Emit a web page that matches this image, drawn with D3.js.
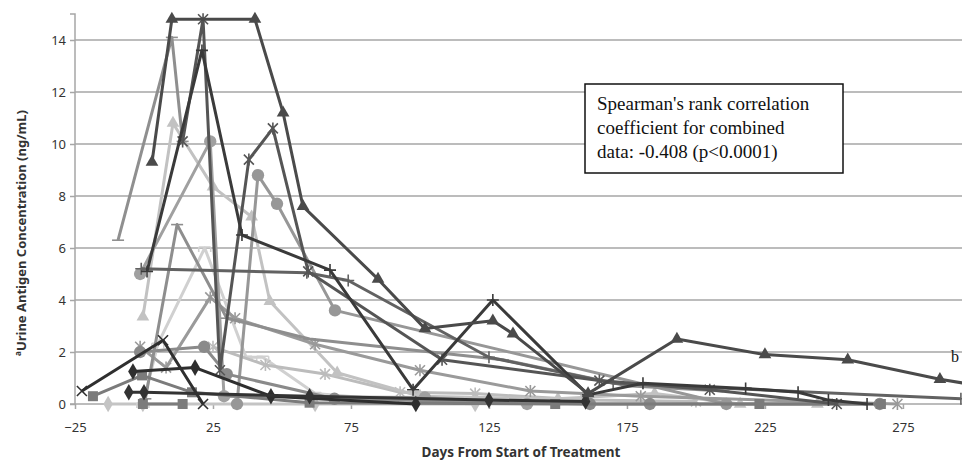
<!DOCTYPE html>
<html><head><meta charset="utf-8">
<script src="https://cdn.jsdelivr.net/npm/d3@7"></script>
<style>body{margin:0;background:#fff}svg{display:block}</style>
</head><body><svg id="c" width="962" height="460"></svg>
<script>
// ---- tick labels ----
const yTicks = [0, 2, 4, 6, 8, 10, 12, 14];
const xTicks = [-25, 25, 75, 125, 175, 225, 275];

// ---- series values: [day, ng/mL] ----
const sLightDiamond = [[-13,0],[-0.4,0],[62,0],[120,0]];
const sLightTee = [[-0.4,0],[5,2.3],[22,6.0],[37,1.8],[43,1.8],[62,0.4],[90,0.15]];
const sLightStar = [[25,2.2],[44,1.5],[65.6,1.15],[92.8,0.45],[120,0.4],[160,0.15],[200,0.1]];
const sLightTri = [[-0.4,3.35],[10.5,10.8],[25,8.35],[39,7.2],[45.6,3.95],[70,1.2],[100,0.3],[150,0.2],[185,0.4],[216,0],[244,0]];
const sMidStar = [[-1.4,2.2],[8,1.4],[24,4.1],[33,3.3],[62,2.3],[100,1.3],[140,0.5],[180,0.3],[273,0]];
const sCircleA = [[33.7,0],[41.3,8.8],[48.2,7.7],[69.2,3.6],[211,0]];
const sCircleB = [[-1.4,5.0],[24,10.1],[29,0.3],[101.8,0.25],[138.8,0]];
const sCircleC = [[-1.4,2.0],[21.8,2.2],[30,1.15],[69,0.2],[161.6,0],[183.3,0],[266.6,0]];
const sDashMid = [[0.5,0.2],[12,6.9],[30,3.3],[60,2.5],[130,1.7],[175,0.7],[210,0.5]];
const sDashGray = [[-9.4,6.3],[10.1,14.1],[14,10.1]];
const sSquare = [[-18.5,0.3],[-0.7,1.1],[17.4,0.45],[60,0.05],[149,0],[223,0],[267,0]];
const sSquareZero = [[-0.4,0],[14,0]];
const sPlusMid = [[-1,5.2],[59,5.05],[74,4.75],[125,1.8],[170,0.8],[296,0.2]];
const sStarDark = [[14,10.1],[21.4,14.8],[27.5,1.3],[38,9.4],[46.7,10.6],[59.5,5.1],[108,1.7],[165,0.9],[205,0.55],[251,0]];
const sDiamondA = [[-4,1.25],[18.5,1.4],[46,0.3],[98.5,0]];
const sDiamondB = [[-5.5,0.45],[0,0.45],[60,0.3],[125,0.15],[160,0.1]];
const sCrossDark = [[-22.5,0.5],[6.9,2.45],[21.4,0]];
const sPlusDark = [[1.1,5.1],[21,13.6],[35.5,6.5],[67.4,5.15],[97.5,0.55],[126.4,4.0],[160.9,0.35],[180.8,0.8],[218,0.6],[237,0.45],[248,0.15],[262,0]];
const sTriDark = [[2.9,9.3],[10.1,14.8],[40.2,14.8],[50.4,11.2],[57.6,7.6],[84.8,4.8],[101.8,2.9],[126.4,3.2],[133.7,2.7],[160.9,0.4],[193.1,2.5],[225,1.9],[255,1.7],[288.4,0.95],[300,0.75]];

const series = [
  {data: sLightDiamond, color: '#c4c4c4', mark: 'diamond'},
  {data: sLightTee, color: '#d0d0d0', mark: 'tee'},
  {data: sLightStar, color: '#bcbcbc', mark: 'star'},
  {data: sLightTri, color: '#c2c2c2', mark: 'tri'},
  {data: sMidStar, color: '#9a9a9a', mark: 'star'},
  {data: sCircleA, color: '#979797', mark: 'circle'},
  {data: sCircleB, color: '#a0a0a0', mark: 'circle'},
  {data: sCircleC, color: '#8a8a8a', mark: 'circle'},
  {data: sDashMid, color: '#8e8e8e', mark: 'dash'},
  {data: sDashGray, color: '#8f8f8f', mark: 'dash'},
  {data: sSquare, color: '#7b7b7b', mark: 'square'},
  {data: sSquareZero, color: '#7b7b7b', mark: 'square'},
  {data: sPlusMid, color: '#626262', mark: 'plus'},
  {data: sStarDark, color: '#555555', mark: 'star'},
  {data: sDiamondA, color: '#2e2e2e', mark: 'diamond'},
  {data: sDiamondB, color: '#333333', mark: 'diamond'},
  {data: sCrossDark, color: '#2f2f2f', mark: 'cross'},
  {data: sPlusDark, color: '#3a3a3a', mark: 'plus'},
  {data: sTriDark, color: '#4a4a4a', mark: 'tri'}
];

const svg = d3.select('#c');
const W = 962, H = 460;
const x = d3.scaleLinear().domain([-25, 296.4]).range([75, 962]);
const y = d3.scaleLinear().domain([0, 15]).range([404, 14]);

// gridlines
svg.append('g').selectAll('line').data(yTicks.filter(d => d > 0)).join('line')
  .attr('x1', x(-25)).attr('x2', W).attr('y1', d => y(d)).attr('y2', d => y(d))
  .attr('stroke', '#a6a6a6').attr('stroke-width', 1.5);

// axes
const yAxis = d3.axisLeft(y).tickValues(yTicks).tickSize(5).tickPadding(4).tickFormat(d3.format('d'));
const gy = svg.append('g').attr('transform', `translate(${x(-25)},0)`).call(yAxis);
gy.select('.domain').attr('stroke', '#a6a6a6').attr('stroke-width', 1.5).attr('d', `M-5,${y(15)}H0V${y(0)}H-5`);
gy.selectAll('.tick line').attr('stroke', '#a6a6a6').attr('stroke-width', 1.5);
gy.selectAll('.tick text').attr('font-family', 'Noto Sans, sans-serif').attr('font-size', 13).attr('fill', '#333');

const xAxis = d3.axisBottom(x).tickValues(xTicks).tickSize(5).tickPadding(14).tickFormat(d3.format('d'));
const gx = svg.append('g').attr('transform', `translate(0,${y(0)})`).call(xAxis);
gx.select('.domain').attr('stroke', '#a6a6a6').attr('stroke-width', 1.5).attr('d', `M${x(-25)},0H${W}`);
gx.selectAll('.tick line').attr('stroke', '#a6a6a6').attr('stroke-width', 1.5);
gx.selectAll('.tick text').attr('font-family', 'Noto Sans, sans-serif').attr('font-size', 13).attr('fill', '#333');

// text box
const bx = svg.append('g');
bx.append('rect').attr('x', 585).attr('y', 84).attr('width', 258).attr('height', 89)
  .attr('fill', '#fff').attr('stroke', '#111').attr('stroke-width', 1.5);
const boxLines = ["Spearman's rank correlation", "coefficient for combined", "data: -0.408 (p<0.0001)"];
bx.selectAll('text').data(boxLines).join('text')
  .attr('x', 597).attr('y', (d, i) => 110 + i * 24)
  .attr('font-family', 'Liberation Serif, Times New Roman, serif').attr('font-size', 19).attr('fill', '#111')
  .text(d => d);

// clip
svg.append('clipPath').attr('id', 'clip').append('rect').attr('x', x(-25)).attr('y', 0).attr('width', W - x(-25)).attr('height', 420);

const plot = svg.append('g').attr('clip-path', 'url(#clip)');
const line = d3.line().x(d => x(d[0])).y(d => y(d[1]));

function markPath(m) {
  switch (m) {
    case 'tri': return d3.symbol(d3.symbolTriangle, 70)();
    case 'circle': return d3.symbol(d3.symbolCircle, 120)();
    case 'square': return d3.symbol(d3.symbolSquare, 100)();
    case 'diamond': return d3.symbol(d3.symbolDiamond, 80)();
    case 'plus': return 'M-6,0H6M0,-6V6';
    case 'cross': return 'M-5,-5L5,5M-5,5L5,-5';
    case 'star': return 'M-5,-5L5,5M-5,5L5,-5M0,-6V6';
    case 'dash': return 'M-6,0H6';
    case 'tee': return 'M-6,-1H6M-6,-1V4M6,-1V4';
  }
}
const filled = {tri: 1, circle: 1, square: 1, diamond: 1};

series.forEach(s => {
  const g = plot.append('g');
  g.append('path').attr('d', line(s.data)).attr('fill', 'none')
    .attr('stroke', s.color).attr('stroke-width', 3).attr('stroke-linejoin', 'round');
  g.selectAll('path.m').data(s.data).join('path').attr('class', 'm')
    .attr('transform', d => `translate(${x(d[0])},${y(d[1])})`)
    .attr('d', markPath(s.mark))
    .attr('fill', filled[s.mark] ? s.color : 'none')
    .attr('stroke', s.color).attr('stroke-width', filled[s.mark] ? 0 : 1.6);
});

// note "b"
svg.append('text').attr('x', 951).attr('y', 362).attr('font-family', 'Liberation Serif, serif')
  .attr('font-size', 16).attr('fill', '#111').text('b');

// axis titles
svg.append('text').attr('x', 521).attr('y', 457).attr('text-anchor', 'middle')
  .attr('font-family', 'Noto Sans, sans-serif').attr('font-weight', 'bold').attr('font-size', 13.5).attr('fill', '#333')
  .text('Days From Start of Treatment');
const yt = svg.append('text').attr('transform', 'translate(26,233) rotate(-90)').attr('text-anchor', 'middle')
  .attr('font-family', 'Noto Sans, sans-serif').attr('font-weight', 'bold').attr('font-size', 13).attr('fill', '#333');
yt.append('tspan').attr('font-size', 8).attr('baseline-shift', 'super').text('a');
yt.append('tspan').text('Urine Antigen Concentration (ng/mL)');
</script></body></html>
